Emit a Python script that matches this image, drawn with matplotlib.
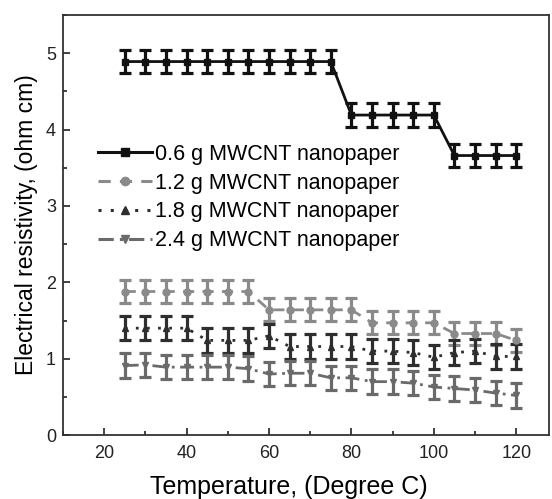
import numpy as np
import matplotlib.pyplot as plt
from matplotlib.lines import Line2D
from matplotlib.ticker import MultipleLocator

plt.rcParams['font.family'] = ['Liberation Sans', 'DejaVu Sans']

# temperature, degree C
temp = [25, 30, 35, 40, 45, 50, 55, 60, 65, 70, 75, 80, 85, 90, 95, 100, 105, 110, 115, 120]

# resistivity, ohm cm
r_06 = [4.89, 4.89, 4.89, 4.89, 4.89, 4.89, 4.89, 4.89, 4.89, 4.89, 4.89,
        4.19, 4.19, 4.19, 4.19, 4.19, 3.66, 3.66, 3.66, 3.66]
r_12 = [1.88, 1.88, 1.88, 1.88, 1.88, 1.88, 1.88, 1.64, 1.64, 1.64, 1.64, 1.64,
        1.47, 1.47, 1.47, 1.47, 1.33, 1.33, 1.33, 1.24]
r_18 = [1.40, 1.40, 1.40, 1.40, 1.24, 1.24, 1.24, 1.30, 1.16, 1.16, 1.16, 1.16,
        1.10, 1.10, 1.08, 1.02, 1.08, 1.10, 1.03, 1.03]
r_24 = [0.91, 0.92, 0.89, 0.89, 0.89, 0.89, 0.87, 0.80, 0.81, 0.81, 0.75, 0.75,
        0.70, 0.70, 0.68, 0.63, 0.61, 0.59, 0.55, 0.52]

err_06 = [0.155] * len(temp)
err_12 = [0.15] * len(temp)
err_18 = [0.16] * len(temp)
err_24 = [0.16] * len(temp)

labels = ["0.6 g MWCNT nanopaper", "1.2 g MWCNT nanopaper",
          "1.8 g MWCNT nanopaper", "2.4 g MWCNT nanopaper"]

fig = plt.figure(figsize=(5.52, 4.99), dpi=100)
ax = fig.add_axes([0.114, 0.128, 0.881, 0.842])

series = [
    (r_06, err_06, "#111111", "s", "-"),
    (r_12, err_12, "#8a8a8a", "o", (0, (4, 3))),
    (r_18, err_18, "#2e2e2e", "^", (0, (1, 3))),
    (r_24, err_24, "#6a6a6a", "v", (0, (5, 2, 1, 2))),
]

handles = []
for (vals, err, col, mk, ls), lab in zip(series, labels):
    ax.errorbar(temp, vals, yerr=err, color=col, marker=mk, markersize=5,
                linestyle=ls, linewidth=2, elinewidth=2.3, capsize=4,
                capthick=2.3)
    handles.append(Line2D([], [], color=col, marker=mk, markersize=6,
                          linestyle=ls, linewidth=2.2, label=lab))

ax.set_xlim(10, 128)
ax.set_ylim(0, 5.5)
ax.xaxis.set_major_locator(MultipleLocator(20))
ax.xaxis.set_minor_locator(MultipleLocator(10))
ax.yaxis.set_major_locator(MultipleLocator(1))
ax.yaxis.set_minor_locator(MultipleLocator(0.5))
ax.tick_params(which='both', direction='in', top=False, right=False,
               labelsize=13, width=1.2, colors='#222222')
ax.tick_params(axis='x', which='major', pad=7)
ax.tick_params(axis='y', which='major', pad=5)
ax.tick_params(which='major', length=5)
ax.tick_params(which='minor', length=3)
for sp in ax.spines.values():
    sp.set_linewidth(1.3)
    sp.set_color('#333333')

ax.set_xlabel("Temperature, (Degree C)", fontsize=18)
ax.xaxis.set_label_coords(0.465, -0.095)
ax.set_ylabel("Electrical resistivity, (ohm cm)", fontsize=16.5, labelpad=6)

ax.legend(handles=handles, loc='upper left', bbox_to_anchor=(0.072, 0.693),
          frameon=False, fontsize=15.5, handlelength=2.5, handletextpad=0.15,
          labelspacing=0.36, borderaxespad=0, borderpad=0)

fig.savefig("out.png", dpi=100)
